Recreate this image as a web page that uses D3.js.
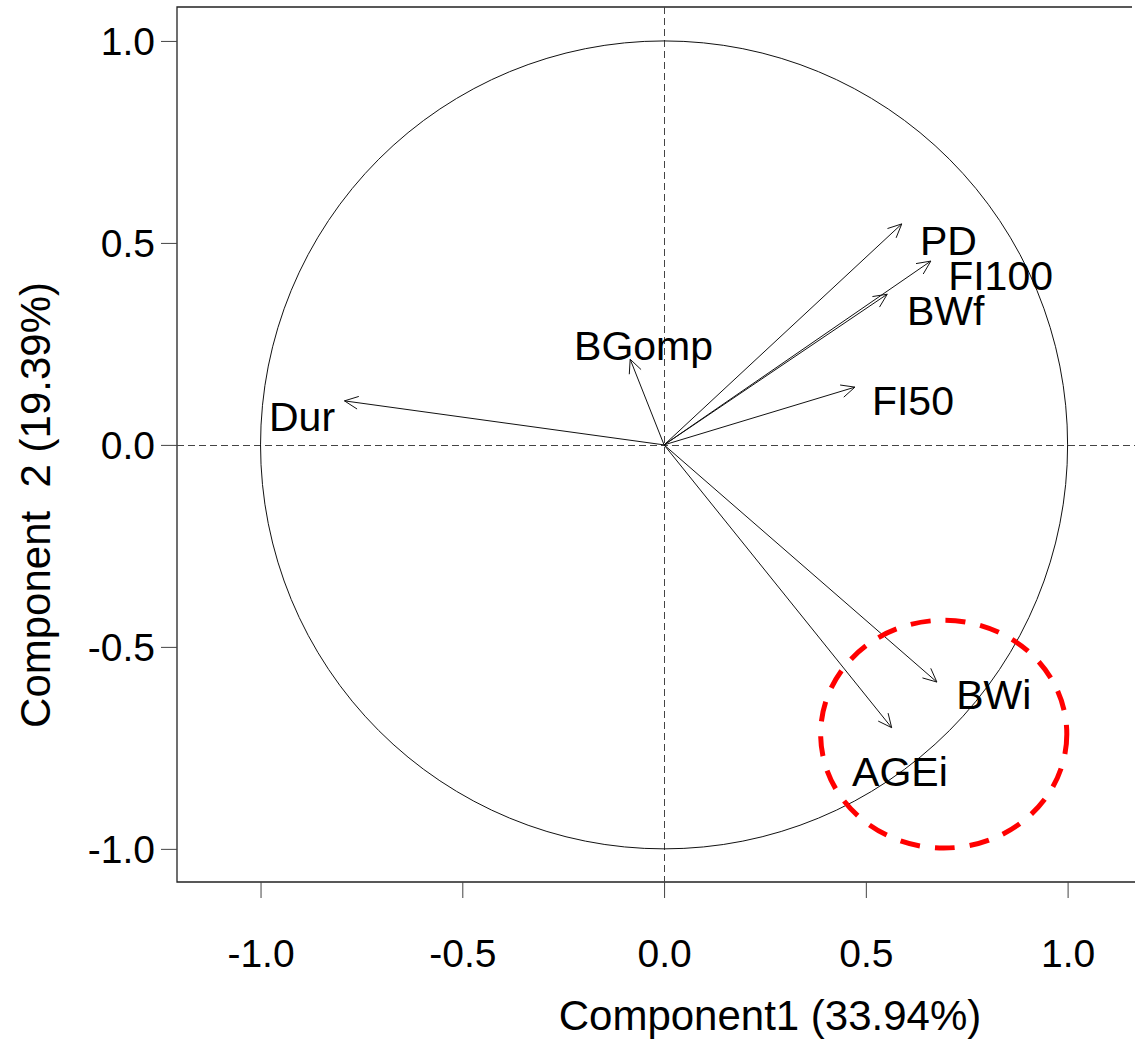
<!DOCTYPE html>
<html>
<head>
<meta charset="utf-8">
<script src="https://cdn.jsdelivr.net/npm/d3@7"></script>
<style>
  html, body { margin: 0; padding: 0; background: #fff; }
  svg { display: block; font-family: "Liberation Sans", Arial, sans-serif; }
</style>
</head>
<body>
<svg id="chart" width="1135" height="1045"></svg>
<script>
// PCA correlation circle: loadings on component 1 / component 2
const variables = ['PD', 'FI100', 'BWf', 'FI50', 'BGomp', 'Dur', 'BWi', 'AGEi'];
const pc1 = [0.589, 0.661, 0.553, 0.473, -0.084, -0.792, 0.676, 0.564];
const pc2 = [0.547, 0.455, 0.373, 0.143, 0.212, 0.109, -0.587, -0.700];
// where each label sits (data units, text start / baseline)
const labelX = [0.634, 0.704, 0.602, 0.515, -0.223, -0.979, 0.724, 0.466];
const labelY = [0.470, 0.384, 0.297, 0.074, 0.210, 0.035, -0.653, -0.844];

const tickValues = [-1.0, -0.5, 0.0, 0.5, 1.0];
const xTitle = 'Component1 (33.94%)';
const yTitle = 'Component  2 (19.39%)';

// highlighted group (red dashed ellipse), data units
const highlight = { cx: 0.693, cy: -0.716, rx: 0.305, ry: 0.282 };

const svg = d3.select('#chart');
const pLeft = 177, pRight = 1135, pTop = 7, pBottom = 882;

const x = d3.scaleLinear().domain([-1.207, 1.167]).range([pLeft, pRight]);
const y = d3.scaleLinear().domain([-1.082, 1.084]).range([pBottom, pTop]);

// frame: top, left, bottom (right edge falls off the picture)
svg.append('path')
    .attr('d', `M${pRight - 3},${pTop} L${pLeft},${pTop} L${pLeft},${pBottom} L${pRight},${pBottom}`)
    .attr('fill', 'none').attr('stroke', '#222').attr('stroke-width', 1.3);

const fmt = d => d.toFixed(1);

const xAxis = svg.append('g').attr('transform', `translate(0,${pBottom})`)
    .call(d3.axisBottom(x).tickValues(tickValues).tickFormat(fmt).tickSize(16).tickSizeOuter(0));
xAxis.select('.domain').remove();
xAxis.selectAll('line').attr('stroke', '#444');
xAxis.selectAll('text').attr('font-size', 39).attr('fill', '#000')
    .attr('font-family', '"Liberation Sans", Arial, sans-serif')
    .attr('y', 0).attr('dy', 0).attr('transform', 'translate(0,85)');

const yAxis = svg.append('g').attr('transform', `translate(${pLeft},0)`)
    .call(d3.axisLeft(y).tickValues(tickValues).tickFormat(fmt).tickSize(16).tickSizeOuter(0));
yAxis.select('.domain').remove();
yAxis.selectAll('line').attr('stroke', '#444');
yAxis.selectAll('text').attr('font-size', 39).attr('fill', '#000')
    .attr('font-family', '"Liberation Sans", Arial, sans-serif')
    .attr('x', -22).attr('dy', 0).attr('transform', 'translate(0,14)');

// reference lines through origin
svg.append('line')
    .attr('x1', pLeft).attr('x2', pRight).attr('y1', Math.round(y(0)) + 0.5).attr('y2', Math.round(y(0)) + 0.5)
    .attr('stroke', '#444').attr('stroke-width', 1).attr('stroke-dasharray', '7,4');
svg.append('line')
    .attr('x1', Math.round(x(0)) + 0.5).attr('x2', Math.round(x(0)) + 0.5).attr('y1', pTop).attr('y2', pBottom)
    .attr('stroke', '#444').attr('stroke-width', 1).attr('stroke-dasharray', '7,4');

// unit circle
svg.append('ellipse')
    .attr('cx', x(0)).attr('cy', y(0))
    .attr('rx', x(1) - x(0)).attr('ry', y(0) - y(1))
    .attr('fill', 'none').attr('stroke', '#111').attr('stroke-width', 1);

// loading arrows
const loadings = variables.map((name, i) => ({ name, px: pc1[i], py: pc2[i], lx: labelX[i], ly: labelY[i] }));
const arrows = svg.append('g').attr('stroke', '#111').attr('stroke-width', 1).attr('fill', 'none');
loadings.forEach(d => {
    const x0 = x(0), y0 = y(0), x1 = x(d.px), y1 = y(d.py);
    const ang = Math.atan2(y1 - y0, x1 - x0);
    const len = 15, spread = 25 * Math.PI / 180;
    const h1 = [x1 - len * Math.cos(ang - spread), y1 - len * Math.sin(ang - spread)];
    const h2 = [x1 - len * Math.cos(ang + spread), y1 - len * Math.sin(ang + spread)];
    arrows.append('path')
        .attr('d', `M${x0},${y0} L${x1},${y1} M${h1[0]},${h1[1]} L${x1},${y1} L${h2[0]},${h2[1]}`);
});

svg.append('g').selectAll('text').data(loadings).enter().append('text')
    .attr('x', d => x(d.lx)).attr('y', d => y(d.ly))
    .attr('font-size', 41).attr('fill', '#000')
    .text(d => d.name);

// red dashed highlight ellipse
svg.append('ellipse')
    .attr('cx', x(highlight.cx)).attr('cy', y(highlight.cy))
    .attr('rx', x(highlight.rx) - x(0)).attr('ry', y(0) - y(highlight.ry))
    .attr('fill', 'none').attr('stroke', '#ff0000').attr('stroke-width', 5)
    .attr('stroke-dasharray', '20,15');

// axis titles
svg.append('text')
    .attr('x', 770).attr('y', 1030).attr('text-anchor', 'middle')
    .attr('font-size', 42).attr('fill', '#000')
    .text(xTitle);

svg.append('text')
    .attr('transform', `translate(50,505) rotate(-90)`)
    .attr('text-anchor', 'middle').attr('font-size', 42).attr('fill', '#000')
    .style('white-space', 'pre')
    .text(yTitle);
</script>
</body>
</html>
